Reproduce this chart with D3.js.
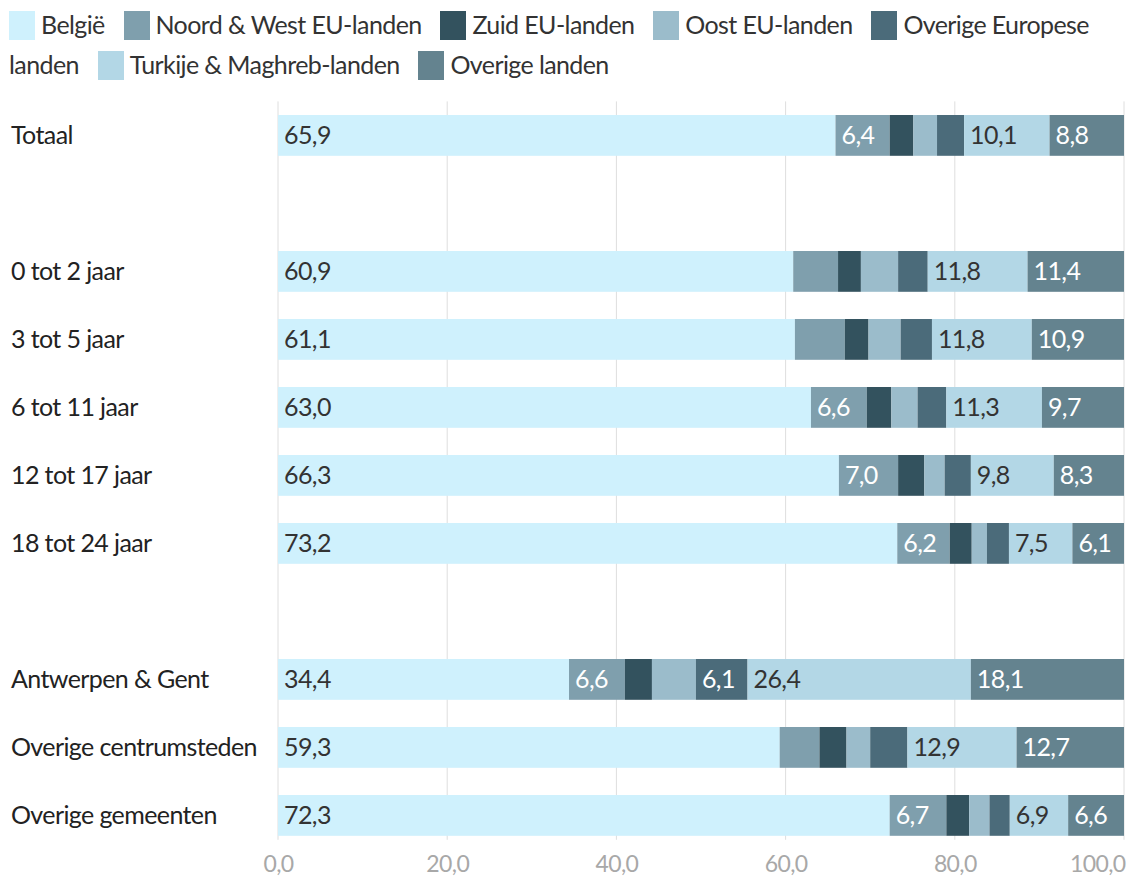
<!DOCTYPE html>
<meta charset="utf-8">
<title>Herkomst per leeftijd en gemeentetype</title>
<style>
    body {
        margin: 0;
        background: #fff;
        font-family: Lato, "Open Sans", sans-serif;
    }

    .legend {
        position: absolute;
        left: 9px;
        top: 4px;
        width: 1110px;
        font-size: 25px;
        letter-spacing: -0.6px;
        line-height: 40px;
        color: #333;
    }

    .legend .sw {
        display: inline-block;
        width: 26px;
        height: 29px;
        vertical-align: -6px;
        margin-right: 6px;
    }

    .legend .lbl {
        margin-right: 13px;
    }

    #chart {
        position: absolute;
        left: 0;
        top: 0;
    }

    svg text {
        letter-spacing: -0.6px;
    }
</style>

<body>
    <div class="legend" id="legend"></div>
    <div id="chart"></div>

    <script src="https://d3js.org/d3.v7.min.js"></script>
    <script>
        // categories (null = empty row)
        var categories = ["Totaal", null, "0 tot 2 jaar", "3 tot 5 jaar", "6 tot 11 jaar",
            "12 tot 17 jaar", "18 tot 24 jaar", null, "Antwerpen & Gent",
            "Overige centrumsteden", "Overige gemeenten"];

        var seriesNames = ["België", "Noord & West EU-landen", "Zuid EU-landen", "Oost EU-landen",
            "Overige Europese landen", "Turkije & Maghreb-landen", "Overige landen"];

        // values per series, same order as categories
        var belgie    = [65.9, null, 60.9, 61.1, 63.0, 66.3, 73.2, null, 34.4, 59.3, 72.3];
        var noordWest = [6.4, null, 5.3, 5.9, 6.6, 7.0, 6.2, null, 6.6, 4.7, 6.7];
        var zuid      = [2.8, null, 2.7, 2.8, 2.9, 3.1, 2.6, null, 3.2, 3.2, 2.7];
        var oost      = [2.8, null, 4.4, 3.8, 3.1, 2.4, 1.8, null, 5.2, 2.8, 2.4];
        var overEur   = [3.2, null, 3.5, 3.7, 3.4, 3.1, 2.6, null, 6.1, 4.4, 2.4];
        var turkije   = [10.1, null, 11.8, 11.8, 11.3, 9.8, 7.5, null, 26.4, 12.9, 6.9];
        var overig    = [8.8, null, 11.4, 10.9, 9.7, 8.3, 6.1, null, 18.1, 12.7, 6.6];

        var xTicks = [0, 20, 40, 60, 80, 100];

        var series = [belgie, noordWest, zuid, oost, overEur, turkije, overig];
        var colors = ["#cff1fd", "#7f9fad", "#33525e", "#9bbccb", "#4b6b7a", "#b3d7e6", "#64838f"];
        var labelColors = ["#333", "#fff", "#fff", "#333", "#fff", "#333", "#fff"];

        var fmt = function (v) { return v.toFixed(1).replace(".", ","); };

        // legend (html, wraps like the original)
        var legend = d3.select("#legend");
        seriesNames.forEach(function (name, i) {
            var item = legend.append("span");
            item.append("span").attr("class", "sw").style("background", colors[i]);
            if (name === "Overige Europese landen") {
                // this one breaks over two lines
                item.append("span").text("Overige Europese");
                item.append("br");
                item.append("span").attr("class", "lbl").text("landen");
            } else {
                item.append("span").attr("class", "lbl").text(name);
            }
            legend.append("span").text(" ");
        });

        // set the dimensions
        var W = 1131, H = 884;
        var x = d3.scaleLinear().domain([0, 100]).range([278, 1124]);
        var y = d3.scaleBand()
            .domain(d3.range(categories.length))
            .range([101.4, 849.4])
            .paddingInner(0.4)
            .paddingOuter(0.2);

        var svg = d3.select("#chart").append("svg")
            .attr("width", W)
            .attr("height", H);

        // gridlines
        svg.append("g")
            .selectAll("line")
            .data(xTicks)
            .join("line")
            .attr("x1", function (d) { return x(d); })
            .attr("x2", function (d) { return x(d); })
            .attr("y1", y.range()[0])
            .attr("y2", y(categories.length - 1) + y.bandwidth() + 4)
            .attr("stroke", "#dedede")
            .attr("stroke-width", 1);

        // stacked data
        var rows = [];
        categories.forEach(function (c, i) {
            if (c === null) return;
            var acc = 0;
            series.forEach(function (s, k) {
                rows.push({ row: i, k: k, x0: acc, x1: acc + s[i], v: s[i] });
                acc += s[i];
            });
        });

        svg.append("g")
            .selectAll("rect")
            .data(rows)
            .join("rect")
            .attr("x", function (d) { return x(d.x0); })
            .attr("width", function (d) { return x(d.x1) - x(d.x0); })
            .attr("y", function (d) { return y(d.row); })
            .attr("height", y.bandwidth())
            .attr("fill", function (d) { return colors[d.k]; });

        // value labels (only for the wider segments)
        svg.append("g")
            .selectAll("text")
            .data(rows.filter(function (d) { return d.v >= 6; }))
            .join("text")
            .attr("x", function (d) { return x(d.x0) + 6; })
            .attr("y", function (d) { return y(d.row) + y.bandwidth() / 2; })
            .attr("dy", "0.36em")
            .attr("font-size", "25px")
            .attr("fill", function (d) { return labelColors[d.k]; })
            .text(function (d) { return fmt(d.v); });

        // category labels
        svg.append("g")
            .selectAll("text")
            .data(categories.map(function (c, i) { return { c: c, i: i }; })
                .filter(function (d) { return d.c !== null; }))
            .join("text")
            .attr("x", 11)
            .attr("y", function (d) { return y(d.i) + y.bandwidth() / 2; })
            .attr("dy", "0.36em")
            .attr("font-size", "25px")
            .attr("fill", "#222")
            .text(function (d) { return d.c; });

        // x axis
        var xAxis = svg.append("g")
            .attr("transform", "translate(0,851)")
            .call(d3.axisBottom(x).tickValues(xTicks).tickSize(0).tickPadding(0).tickFormat(fmt));
        xAxis.select(".domain").remove();
        xAxis.selectAll("text")
            .attr("font-family", "Lato, sans-serif")
            .attr("font-size", "23px")
            .attr("fill", "#a8a8a8")
            .attr("dy", "0.9em")
            .attr("text-anchor", function (d) { return d === 100 ? "end" : "middle"; })
            .attr("x", function (d) { return d === 100 ? 1 : 0; });
    </script>
</body>
